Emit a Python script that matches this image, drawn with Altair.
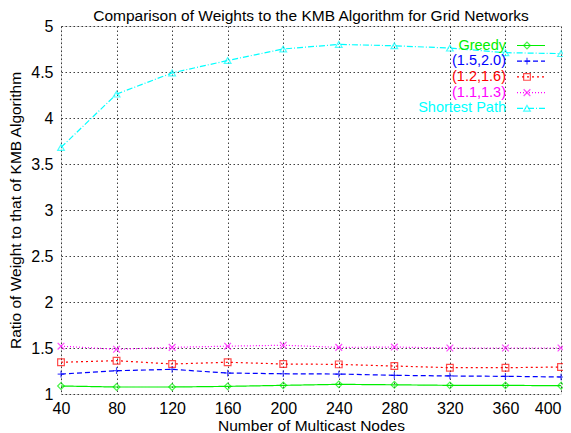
import altair as alt
import pandas as pd

nodes = [40, 80, 120, 160, 200, 240, 280, 320, 360, 400]
series_names = ["Greedy", "(1.5,2.0)", "(1.2,1.6)", "(1.1,1.3)", "Shortest Path"]
greedy = [1.087, 1.076, 1.076, 1.083, 1.094, 1.105, 1.100, 1.094, 1.094, 1.090]
s_15_20 = [1.217, 1.253, 1.268, 1.228, 1.220, 1.217, 1.203, 1.196, 1.192, 1.185]
s_12_16 = [1.345, 1.362, 1.326, 1.345, 1.326, 1.322, 1.304, 1.286, 1.286, 1.293]
s_11_13 = [1.520, 1.486, 1.507, 1.520, 1.530, 1.507, 1.510, 1.500, 1.500, 1.500]
shortest = [3.68, 4.26, 4.49, 4.625, 4.75, 4.80, 4.785, 4.76, 4.71, 4.70]
y_ticks = [1, 1.5, 2, 2.5, 3, 3.5, 4, 4.5, 5]

colors = ["#00ee00", "#0000ff", "#ff0000", "#ff00ff", "#00ffff"]
dashes = [[1, 0], [5, 3], [2, 3], [1, 2], [6, 2, 1, 2]]
shapes = [
    "diamond",
    "M-1,0L1,0M0,-1L0,1",
    "square",
    "M-1,-1L1,1M-1,1L1,-1",
    "triangle-up",
]

all_vals = [greedy, s_15_20, s_12_16, s_11_13, shortest]
rows = []
for name, vals in zip(series_names, all_vals):
    for n, v in zip(nodes, vals):
        rows.append({"nodes": n, "ratio": v, "series": name})
df = pd.DataFrame(rows)

leg = pd.DataFrame({"series": series_names, "idx": list(range(len(series_names)))})

FONT = "Liberation Sans"

color_enc = alt.Color("series:N", scale=alt.Scale(domain=series_names, range=colors), legend=None)
dash_enc = alt.StrokeDash("series:N", scale=alt.Scale(domain=series_names, range=dashes), legend=None)
shape_enc = alt.Shape("series:N", scale=alt.Scale(domain=series_names, range=shapes), legend=None)

x_enc = alt.X(
    "nodes:Q",
    scale=alt.Scale(domain=[40, 400], nice=False, zero=False),
    axis=alt.Axis(
        values=nodes, title="Number of Multicast Nodes", grid=True, ticks=False,
        domain=False, labelPadding=6, labelFontSize=16, labelFont=FONT,
        labelColor="black", titleFont=FONT, titleFontSize=15.5, titleFontWeight="normal",
        titleColor="black", titleY=31, titleBaseline="middle",
        gridColor="black", gridDash=[1.5, 2.5], gridOpacity=0.75, labelFlush=False,
        labelAlign=alt.condition("datum.value == 400", alt.value("right"), alt.value("center")),
    ),
)
y_enc = alt.Y(
    "ratio:Q",
    scale=alt.Scale(domain=[1, 5], nice=False, zero=False),
    axis=alt.Axis(
        values=y_ticks, format="~g", title="Ratio of Weight to that of KMB Algorithm",
        grid=True, ticks=False, domain=False, labelPadding=8, labelFontSize=16,
        labelFont=FONT, labelColor="black", titleFont=FONT, titleFontSize=15.5,
        titleFontWeight="normal", titleColor="black", titleX=-46, titleY=184,
        titleBaseline="middle", gridColor="black", gridDash=[1.5, 2.5],
        gridOpacity=0.75, labelFlush=False,
    ),
)

lines = alt.Chart(df).mark_line(strokeWidth=1.2).encode(
    x=x_enc, y=y_enc, color=color_enc, strokeDash=dash_enc, detail="series:N"
)
points = alt.Chart(df).mark_point(filled=False, size=45, strokeWidth=1.2).encode(
    x=x_enc, y=y_enc, color=color_enc, shape=shape_enc
)
data_layer = alt.layer(lines, points)

leg_base = alt.Chart(leg).transform_calculate(ly="19.5 + 15.7 * datum.idx")
leg_y = alt.Y("ly:Q", scale=None, axis=None)
leg_text = leg_base.mark_text(align="right", baseline="middle", fontSize=14.5, font=FONT).encode(
    x=alt.value(445), y=leg_y, text="series:N", color=color_enc
)
leg_line = leg_base.mark_rule(strokeWidth=1.2).encode(
    x=alt.value(456), x2=alt.value(484), y=leg_y, color=color_enc, strokeDash=dash_enc
)
leg_pt = leg_base.mark_point(filled=False, size=45, strokeWidth=1.2).encode(
    x=alt.value(466), y=leg_y, color=color_enc, shape=shape_enc
)
legend_layer = alt.layer(leg_line, leg_pt, leg_text)

chart = (
    alt.layer(data_layer, legend_layer)
    .resolve_scale(y="independent")
    .properties(
        width=500,
        height=368,
        autosize=alt.AutoSizeParams(type="none"),
        padding={"left": 53, "top": 18, "right": 2, "bottom": 40},
        title=alt.TitleParams(
            "Comparison of Weights to the KMB Algorithm for Grid Networks",
            font=FONT, fontSize=15.5, fontWeight="normal", color="black", offset=-6,
            anchor="middle",
        ),
    )
    .configure_view(stroke="black", strokeWidth=1.5)
    .configure(background="white")
)

chart.save("out.html", embed_options={"renderer": "svg", "actions": False})
